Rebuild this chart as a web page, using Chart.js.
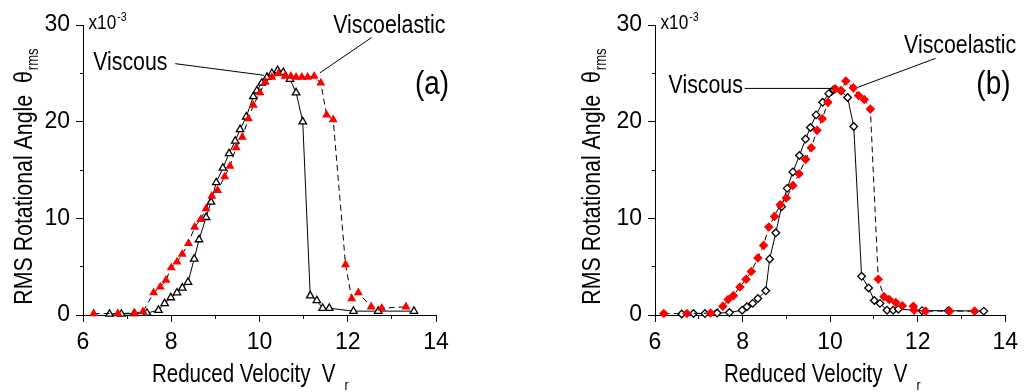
<!DOCTYPE html>
<html><head><meta charset="utf-8">
<script src="https://cdn.jsdelivr.net/npm/chart.js@4/dist/chart.umd.min.js"></script>
<style>
html,body{margin:0;padding:0;background:#fff;width:1025px;height:392px;overflow:hidden}
.p{position:absolute;top:0;height:392px}
</style></head><body>
<div class="p" style="left:0;width:512px"><canvas id="ca" width="512" height="392"></canvas></div>
<div class="p" style="left:512px;width:513px"><canvas id="cb" width="513" height="392"></canvas></div>
<script>
// ---- tick labels ----
const xTickLabels = [6, 8, 10, 12, 14];
const yTickLabels = [0, 10, 20, 30];

// ---- panel (a): triangles ----
const aViscousX = [6.60, 6.87, 7.16, 7.45, 7.71, 7.85, 7.99, 8.13, 8.25, 8.38, 8.52, 8.63, 8.79, 8.90, 9.02, 9.17, 9.31, 9.45, 9.56, 9.70, 9.86, 9.94, 10.05, 10.17, 10.28, 10.41, 10.54, 10.69, 10.83, 10.98, 11.15, 11.30, 11.43, 11.58, 12.13, 12.69, 13.50];
const aViscousY = [0.1, 0.1, 0.15, 0.2, 0.5, 1.2, 1.8, 2.3, 2.8, 3.4, 5.8, 7.8, 10.1, 11.7, 13.7, 15.2, 16.7, 18.0, 19.2, 20.5, 22.6, 23.2, 24.0, 24.6, 25.0, 25.3, 25.1, 24.4, 23.0, 20.0, 2.0, 1.5, 0.7, 0.7, 0.4, 0.4, 0.4];
const aElasticX = [6.24, 6.79, 7.17, 7.36, 7.60, 7.75, 7.88, 8.00, 8.13, 8.25, 8.39, 8.53, 8.67, 8.79, 8.92, 9.05, 9.21, 9.33, 9.47, 9.61, 9.75, 9.86, 10.01, 10.13, 10.28, 10.43, 10.58, 10.71, 10.83, 10.96, 11.09, 11.24, 11.39, 11.52, 11.67, 11.95, 12.09, 12.24, 12.53, 12.77, 13.32];
const aElasticY = [0.15, 0.15, 0.2, 0.35, 2.3, 2.9, 3.6, 4.9, 5.5, 6.3, 7.4, 9.1, 9.9, 11.0, 12.3, 12.9, 14.3, 15.4, 17.3, 18.4, 20.3, 21.7, 23.0, 24.1, 24.6, 25.0, 24.7, 24.7, 24.6, 24.6, 24.6, 24.7, 24.0, 20.7, 20.2, 5.2, 1.7, 2.3, 0.85, 0.7, 0.85];

// ---- panel (b): diamonds ----
const bViscousX = [6.61, 6.88, 7.14, 7.42, 7.70, 7.99, 8.10, 8.23, 8.35, 8.53, 8.62, 8.76, 8.89, 9.02, 9.15, 9.30, 9.44, 9.55, 9.68, 9.83, 9.97, 10.08, 10.25, 10.40, 10.54, 10.72, 10.88, 11.01, 11.14, 11.30, 11.44, 11.56, 12.10, 12.70, 13.51];
const bViscousY = [0.1, 0.15, 0.15, 0.2, 0.25, 0.5, 0.85, 1.2, 1.7, 2.5, 5.8, 8.5, 11.2, 13.1, 14.8, 16.5, 18.2, 19.4, 20.7, 22.0, 22.9, 23.3, 23.2, 22.5, 19.5, 4.0, 2.8, 1.5, 1.2, 0.5, 0.5, 0.6, 0.45, 0.45, 0.4];
const bElasticX = [6.20, 6.73, 7.27, 7.55, 7.67, 7.79, 7.94, 8.08, 8.20, 8.35, 8.48, 8.60, 8.73, 8.86, 9.00, 9.15, 9.29, 9.44, 9.57, 9.70, 9.82, 9.95, 10.12, 10.25, 10.36, 10.53, 10.65, 10.78, 10.92, 11.10, 11.23, 11.35, 11.50, 11.65, 11.90, 11.92, 12.18, 12.73, 13.30];
const bElasticY = [0.15, 0.15, 0.2, 0.9, 1.6, 2.0, 2.9, 3.7, 4.5, 5.9, 7.2, 9.1, 10.2, 11.4, 12.1, 13.4, 14.6, 16.1, 17.3, 19.1, 20.3, 22.0, 23.4, 23.2, 24.2, 23.5, 22.7, 22.3, 21.3, 3.7, 1.9, 1.6, 1.3, 0.95, 0.9, 0.5, 0.4, 0.4, 0.4];

const FONT = "'Liberation Sans', Arial, sans-serif";
const NARROW = 0.82;
const F = s => `${s}px ${FONT}`;
const pts = (xs, ys) => xs.map((v, i) => ({x: v, y: ys[i]}));

// draw horizontally condensed text (Arial Narrow look); returns drawn width
function nText(ctx, text, x, y, size, align) {
  ctx.save();
  ctx.font = F(size);
  ctx.textAlign = 'left';
  const w = ctx.measureText(text).width;
  const dx = align === 'center' ? -w / 2 : (align === 'right' ? -w : 0);
  ctx.translate(x, y);
  ctx.scale(NARROW, 1);
  ctx.fillText(text, dx, 0);
  ctx.restore();
  return w * NARROW;
}

const annotPlugin = {
  id: 'annot',
  afterDraw(chart, args, o) {
    const {ctx, chartArea: ca, scales: {x, y}} = chart;
    const px = p => [x.getPixelForValue(p[0]), y.getPixelForValue(p[1])];
    ctx.save();
    ctx.fillStyle = '#000'; ctx.strokeStyle = '#000'; ctx.lineWidth = 1;
    ctx.textBaseline = 'alphabetic';
    // multiplier x10^-3
    const mx = ca.left + 5.5, my = ca.top + 3.5;
    const mw = nText(ctx, 'x10', mx, my, 21);
    nText(ctx, '-3', mx + mw + 1, my - 8, 13);
    // series labels with leader lines
    for (const lab of o.labels) {
      const [tx, ty] = px(lab.at);
      nText(ctx, lab.text, tx, ty, 26);
      const [x1, y1] = px(lab.line[0]), [x2, y2] = px(lab.line[1]);
      ctx.beginPath(); ctx.moveTo(x1, y1); ctx.lineTo(x2, y2); ctx.stroke();
    }
    // panel tag
    const [gx, gy] = px(o.tag.at);
    nText(ctx, o.tag.text, gx, gy + 12, 34, 'center');
    // x title
    const tx0 = ca.left + 69, ty0 = 382;
    const xw = nText(ctx, 'Reduced Velocity  V', tx0, ty0, 25);
    nText(ctx, 'r', tx0 + xw + 9, ty0 + 8, 15);
    // y title (rotated)
    ctx.translate(ca.left - o.yTitleGap, 176.5);
    ctx.rotate(-Math.PI / 2);
    ctx.font = F(26);
    const yt = 'RMS Rotational Angle  \u03B8';
    const yw = ctx.measureText(yt).width * NARROW;
    ctx.font = F(16);
    const sw = ctx.measureText('rms').width * NARROW;
    const start = -(yw + sw + 1) / 2;
    nText(ctx, yt, start, 0, 26);
    nText(ctx, 'rms', start + yw + 1, 6, 16);
    ctx.restore();
  }
};

function makePanel(id, cfg) {
  const W = cfg.width;
  new Chart(document.getElementById(id), {
    type: 'scatter',
    data: {
      datasets: [
        {
          label: 'Viscoelastic', data: pts(cfg.ex, cfg.ey), showLine: true, order: 0,
          borderColor: '#000', borderWidth: 1, borderDash: [6, 4], tension: 0, clip: false,
          pointStyle: cfg.style, pointRadius: cfg.er, pointBackgroundColor: '#ff0000',
          pointBorderColor: '#ff0000', pointBorderWidth: 0
        },
        {
          label: 'Viscous', data: pts(cfg.vx, cfg.vy), showLine: true, order: 1,
          borderColor: '#000', borderWidth: 1, tension: 0, clip: false,
          pointStyle: cfg.style, pointRadius: cfg.vr, pointBackgroundColor: '#ffffff',
          pointBorderColor: '#000', pointBorderWidth: 1.3
        }
      ]
    },
    options: {
      responsive: false, animation: false, devicePixelRatio: 1,
      layout: {padding: {left: 0, top: 25, right: W - cfg.right, bottom: 0}},
      plugins: {legend: {display: false}, tooltip: {enabled: false}, annot: cfg.annot},
      scales: {
        x: {
          type: 'linear', min: 6, max: 14, position: 'bottom',
          afterFit: s => { s.height = 392 - 315; },
          ticks: {
            stepSize: 1, autoSkip: false, maxRotation: 0, color: '#000', padding: 7,
            font: {family: FONT, size: 23},
            callback: v => xTickLabels.includes(v) ? String(v) : ''
          },
          grid: {
            drawOnChartArea: false, tickLength: 7, tickColor: '#000', tickWidth: 1,
            tickBorderDash: c => (c.tick && xTickLabels.includes(c.tick.value)) ? [] : [3, 100]
          },
          border: {display: true, color: '#000', width: 1}
        },
        y: {
          type: 'linear', min: 0, max: 30, position: 'left',
          afterFit: s => { s.width = cfg.left; },
          ticks: {
            stepSize: 5, autoSkip: false, color: '#000', padding: 6,
            font: {family: FONT, size: 23},
            callback: v => yTickLabels.includes(v) ? String(v) : ''
          },
          grid: {
            drawOnChartArea: false, tickLength: 7, tickColor: '#000', tickWidth: 1,
            tickBorderDash: c => (c.tick && yTickLabels.includes(c.tick.value)) ? [] : [0, 4, 3, 100]
          },
          border: {display: true, color: '#000', width: 1}
        }
      }
    },
    plugins: [annotPlugin]
  });
}

makePanel('ca', {
  width: 512, left: 83, right: 436, style: 'triangle', vr: 4.3, er: 5.2,
  vx: aViscousX, vy: aViscousY, ex: aElasticX, ey: aElasticY,
  annot: {
    yTitleGap: 51,
    labels: [
      {text: 'Viscous', at: [6.23, 25.3], line: [[8.09, 26.0], [10.10, 24.8]]},
      {text: 'Viscoelastic', at: [11.67, 29.2], line: [[12.54, 28.7], [11.37, 25.05]]}
    ],
    tag: {text: '(a)', at: [13.91, 24.1]}
  }
});
makePanel('cb', {
  width: 513, left: 143, right: 495, style: 'rectRot', vr: 3.8, er: 4.8,
  vx: bViscousX, vy: bViscousY, ex: bElasticX, ey: bElasticY,
  annot: {
    yTitleGap: 55,
    labels: [
      {text: 'Viscous', at: [6.31, 22.93], line: [[8.05, 23.44], [10.06, 23.44]]},
      {text: 'Viscoelastic', at: [11.69, 27.06], line: [[12.41, 26.55], [10.63, 23.55]]}
    ],
    tag: {text: '(b)', at: [13.73, 24.1]}
  }
});
</script>
</body></html>
